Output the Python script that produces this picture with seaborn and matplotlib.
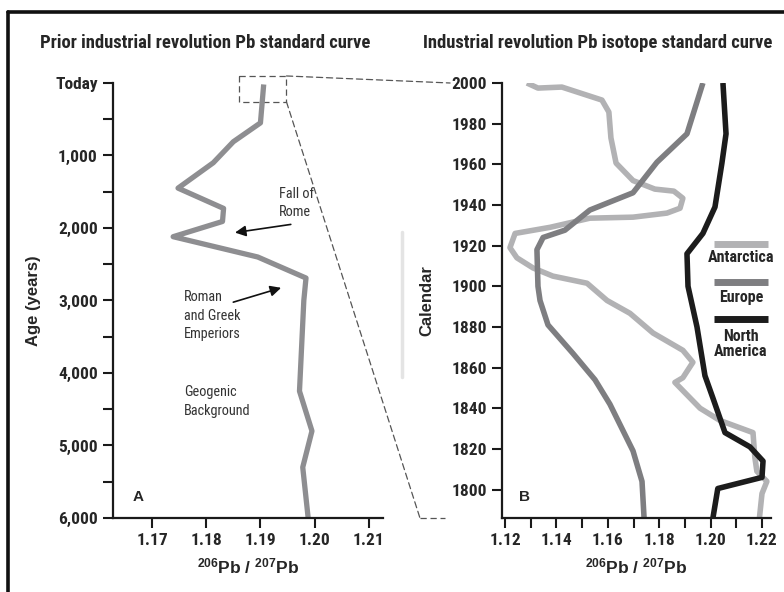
import os
import matplotlib
matplotlib.use('Agg')
import matplotlib.pyplot as plt
import seaborn as sns
from matplotlib import font_manager as fm
from matplotlib.patches import Rectangle, ConnectionPatch
from matplotlib.lines import Line2D
from matplotlib.ticker import MultipleLocator

# --- data ---
# panel A: prior industrial revolution curve
prior_age = [20, 550, 810, 1100, 1450, 1730, 1910, 2120, 2400, 2690, 3000, 4250, 4800, 5300, 6000]
prior_ratio = [1.1906, 1.1900, 1.1850, 1.1813, 1.1748, 1.1832, 1.1830, 1.1739,
               1.1895, 1.1984, 1.1980, 1.1972, 1.1995, 1.1978, 1.1988]

# panel B: industrial revolution curves
antarctica_year = [2000, 1997.5, 1998, 1991.6, 1985.7, 1973, 1960.6, 1952, 1947.8, 1946.8,
                   1943.3, 1938.4, 1936, 1934, 1933.5, 1929, 1926, 1919, 1914, 1909, 1905,
                   1901.5, 1893, 1886.7, 1877, 1868.5, 1862.6, 1855, 1852.7, 1840, 1834,
                   1828, 1816, 1809, 1804, 1798, 1786]
antarctica_ratio = [1.1285, 1.1328, 1.1421, 1.1577, 1.1604, 1.1612, 1.1632, 1.1698, 1.1783, 1.1857,
                    1.1892, 1.1881, 1.1830, 1.1698, 1.1530, 1.1375, 1.1239, 1.1219, 1.1246, 1.1309, 1.1386,
                    1.1519, 1.1597, 1.1686, 1.1776, 1.1892, 1.1931, 1.1892, 1.1861, 1.1959, 1.2036,
                    1.2165, 1.2172, 1.2180, 1.2219, 1.2200, 1.2190]

europe_year = [2000, 1975, 1961, 1946, 1937.5, 1927.6, 1924, 1918, 1900, 1893, 1881,
               1867, 1854, 1842, 1819, 1804, 1786]
europe_ratio = [1.1970, 1.1908, 1.1791, 1.1698, 1.1530, 1.1433, 1.1348, 1.1324, 1.1328, 1.1336, 1.1367,
                1.1464, 1.1550, 1.1608, 1.1698, 1.1733, 1.1741]

namerica_year = [2000, 1975, 1960.6, 1939, 1926, 1916, 1900, 1880, 1856, 1845, 1828,
                 1821, 1814, 1806, 1800.5, 1786]
namerica_ratio = [1.2048, 1.2060, 1.2044, 1.2017, 1.1970, 1.1908, 1.1912, 1.1947, 1.1978, 1.2009, 1.2056,
                  1.2153, 1.2204, 1.2200, 1.2028, 1.2009]

age_ticks = [0, 1000, 2000, 3000, 4000, 5000, 6000]
age_labels = ['Today', '1,000', '2,000', '3,000', '4,000', '5,000', '6,000']
year_ticks = list(range(1800, 2001, 20))
ratio_ticks_a = [1.17, 1.18, 1.19, 1.20, 1.21]
ratio_ticks_b = [1.12, 1.14, 1.16, 1.18, 1.20, 1.22]

region_names = ['Antarctica', 'Europe', 'North\nAmerica']
region_colors = ['#b2b2b4', '#7e7e81', '#1c1c1c']


# --- fonts: look for a condensed face, else fall back ---
def find_font(patterns):
    files = [f.fname for f in fm.fontManager.ttflist]
    for p in patterns:
        for fn in files:
            if os.path.basename(fn).lower().startswith(p.lower()):
                return fn
    return None


narrow_bold_file = find_font(['LiberationSansNarrow-Bold.', 'RobotoCondensed-Bold.',
                              'NotoSans-CondensedBold.', 'DejaVuSansCondensed-Bold.',
                              'OpenSans-CondensedBold.', 'Roboto-Bold.'])
narrow_reg_file = find_font(['LiberationSansNarrow-Regular.', 'RobotoCondensed-Regular.',
                             'NotoSans-Condensed.', 'DejaVuSansCondensed.',
                             'OpenSans-CondensedRegular.', 'Roboto-Regular.'])


def narrow(size, bold=True):
    fn = narrow_bold_file if bold else narrow_reg_file
    if fn:
        return fm.FontProperties(fname=fn, size=size)
    return fm.FontProperties(family='Liberation Sans', weight='bold' if bold else 'normal',
                             size=size * 0.85)


def wide(size):
    return fm.FontProperties(family=['Liberation Sans', 'DejaVu Sans'], weight='bold', size=size)


# --- style ---
sns.set_style('ticks')
plt.rcParams['font.family'] = ['Liberation Sans', 'DejaVu Sans']
plt.rcParams['font.weight'] = 'bold'
plt.rcParams['mathtext.default'] = 'regular'
plt.rcParams['axes.linewidth'] = 1.6
plt.rcParams['axes.edgecolor'] = '#1a1a1a'

fig = plt.figure(figsize=(7.84, 5.92), dpi=100)
ax1 = fig.add_axes([0.1441, 0.125, 0.3444, 0.7348])
ax2 = fig.add_axes([0.6403, 0.125, 0.3431, 0.7348])

# panel A
sns.lineplot(x=prior_ratio, y=prior_age, sort=False, estimator=None, color='#8e8e91',
             lw=3.8, ax=ax1, solid_capstyle='butt')
ax1.set_xlim(1.1628, 1.2126)
ax1.set_ylim(6000, 0)
ax1.set_yticks(age_ticks)
ax1.set_yticklabels(age_labels)
ax1.yaxis.set_minor_locator(MultipleLocator(500))
ax1.set_xticks(ratio_ticks_a)
ax1.set_xticklabels([f'{v:.2f}' for v in ratio_ticks_a])

# panel B
for yr, rt, col in zip([antarctica_year, europe_year, namerica_year],
                       [antarctica_ratio, europe_ratio, namerica_ratio], region_colors):
    sns.lineplot(x=rt, y=yr, sort=False, estimator=None, color=col, lw=4.0, ax=ax2,
                 solid_capstyle='butt')
ax2.set_xlim(1.1188, 1.2235)
ax2.set_ylim(1786, 2000)
ax2.set_yticks(year_ticks)
ax2.set_yticklabels([str(v) for v in year_ticks])
ax2.set_xticks(ratio_ticks_b)
ax2.set_xticklabels([f'{v:.2f}' for v in ratio_ticks_b])
ax2.xaxis.set_minor_locator(MultipleLocator(0.01))

for ax in (ax1, ax2):
    sns.despine(ax=ax)
    ax.tick_params(which='both', direction='out', length=7, width=1.5, color='#1a1a1a', pad=4)
    ax.set_xlabel('$^{206}$Pb / $^{207}$Pb', fontproperties=wide(12.5), labelpad=6)
    for lab in ax.get_xticklabels() + ax.get_yticklabels():
        lab.set_fontproperties(narrow(12.5))

ax1.set_ylabel('Age (years)', fontproperties=wide(12), labelpad=10)
ax2.set_ylabel('Calendar', fontproperties=wide(12), labelpad=12)

fig.text(0.2615, 0.927, 'Prior industrial revolution Pb standard curve', ha='center', va='center',
         fontproperties=narrow(13.4))
fig.text(0.7620, 0.927, 'Industrial revolution Pb isotope standard curve', ha='center', va='center',
         fontproperties=narrow(13.4))

ax1.text(0.093, 0.048, 'A', transform=ax1.transAxes, fontproperties=wide(11),
         ha='center', va='center')
ax2.text(0.082, 0.048, 'B', transform=ax2.transAxes, fontproperties=wide(11),
         ha='center', va='center')

# annotations
note_kw = dict(fontproperties=narrow(10.3, bold=False), color='#333333', linespacing=1.4)
arrow_kw = dict(arrowstyle='-|>', color='#111111', lw=1.2, mutation_scale=16)
ax1.annotate('', xy=(1.1848, 2069), xytext=(1.1961, 1945), arrowprops=arrow_kw)
ax1.text(1.1934, 1880, 'Fall of\nRome', ha='left', va='bottom', **note_kw)
ax1.annotate('', xy=(1.1943, 2814), xytext=(1.1845, 3034), arrowprops=arrow_kw)
ax1.text(1.1759, 2860, 'Roman\nand Greek\nEmperiors', ha='left', va='top', **note_kw)
ax1.text(1.1759, 4170, 'Geogenic\nBackground', ha='left', va='top', **note_kw)

# legend drawn at the right of panel B
leg_lines = [0.630, 0.543, 0.457]
leg_text = [0.598, 0.508, 0.400]
for name, col, ly, ty in zip(region_names, region_colors, leg_lines, leg_text):
    ax2.add_line(Line2D([0.788, 0.989], [ly, ly], transform=ax2.transAxes, color=col, lw=5,
                        solid_capstyle='butt'))
    ax2.text(0.888, ty, name, transform=ax2.transAxes, ha='center', va='center',
             fontproperties=narrow(11.5), linespacing=1.05)

# zoom box and dashed connectors
dash = dict(color='#555555', lw=0.9, ls=(0, (5, 3)))
ax1.add_patch(Rectangle((1.1861, -97), 0.0087, 357, fill=False, clip_on=False, **dash))
fig.add_artist(ConnectionPatch(xyA=(1.1948, -97), coordsA=ax1.transData,
                               xyB=(-0.193, 1.0), coordsB=ax2.transAxes, **dash))
fig.add_artist(ConnectionPatch(xyA=(1.1948, 260), coordsA=ax1.transData,
                               xyB=(-0.305, 0.0), coordsB=ax2.transAxes, **dash))
ax2.add_line(Line2D([-0.305, -0.212], [0, 0], transform=ax2.transAxes, clip_on=False, **dash))

# frame pieces
fig.add_artist(Line2D([0.0102, 1.0], [0.9797, 0.9797], color='#111111', lw=2.6))
fig.add_artist(Line2D([0.0102, 0.0102], [0.0, 0.9797], color='#111111', lw=2.6))
fig.add_artist(Line2D([0.5128, 0.5128], [0.363, 0.608], color='#e4e4e4', lw=2.5))

fig.savefig('out.png', dpi=100)
